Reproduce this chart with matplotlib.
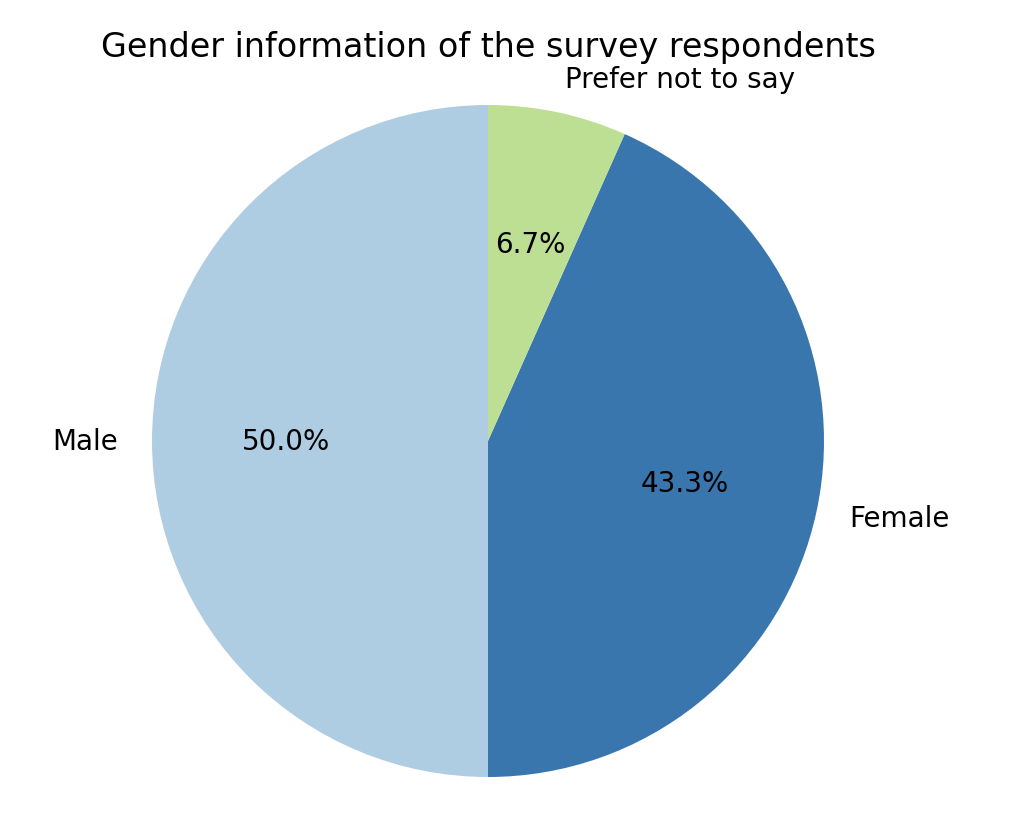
import matplotlib
matplotlib.use("Agg")
import matplotlib.pyplot as plt

labels = ["Male", "Female", "Prefer not to say"]
counts = [15, 13, 2]
colors = ["#afcde2", "#3a76ae", "#bddf93"]

W, H = 1018, 828
fig = plt.figure(figsize=(W / 200, H / 200), dpi=200)
cx, cy, r = 488, 442, 336
side = r * 2.5
ax = fig.add_axes([(cx - side / 2) / W, (H - cy - side / 2) / H, side / W, side / H])
ax.pie(counts, labels=labels, colors=colors, autopct="%1.1f%%", startangle=90,
       textprops={"fontsize": 10})
ax.set_xlim(-1.25, 1.25)
ax.set_ylim(-1.25, 1.25)
ax.set_aspect("auto")
fig.text(cx / W, 1 - 57 / H, "Gender information of the survey respondents",
         ha="center", va="baseline", fontsize=12)
fig.savefig("out.png", dpi=200)
